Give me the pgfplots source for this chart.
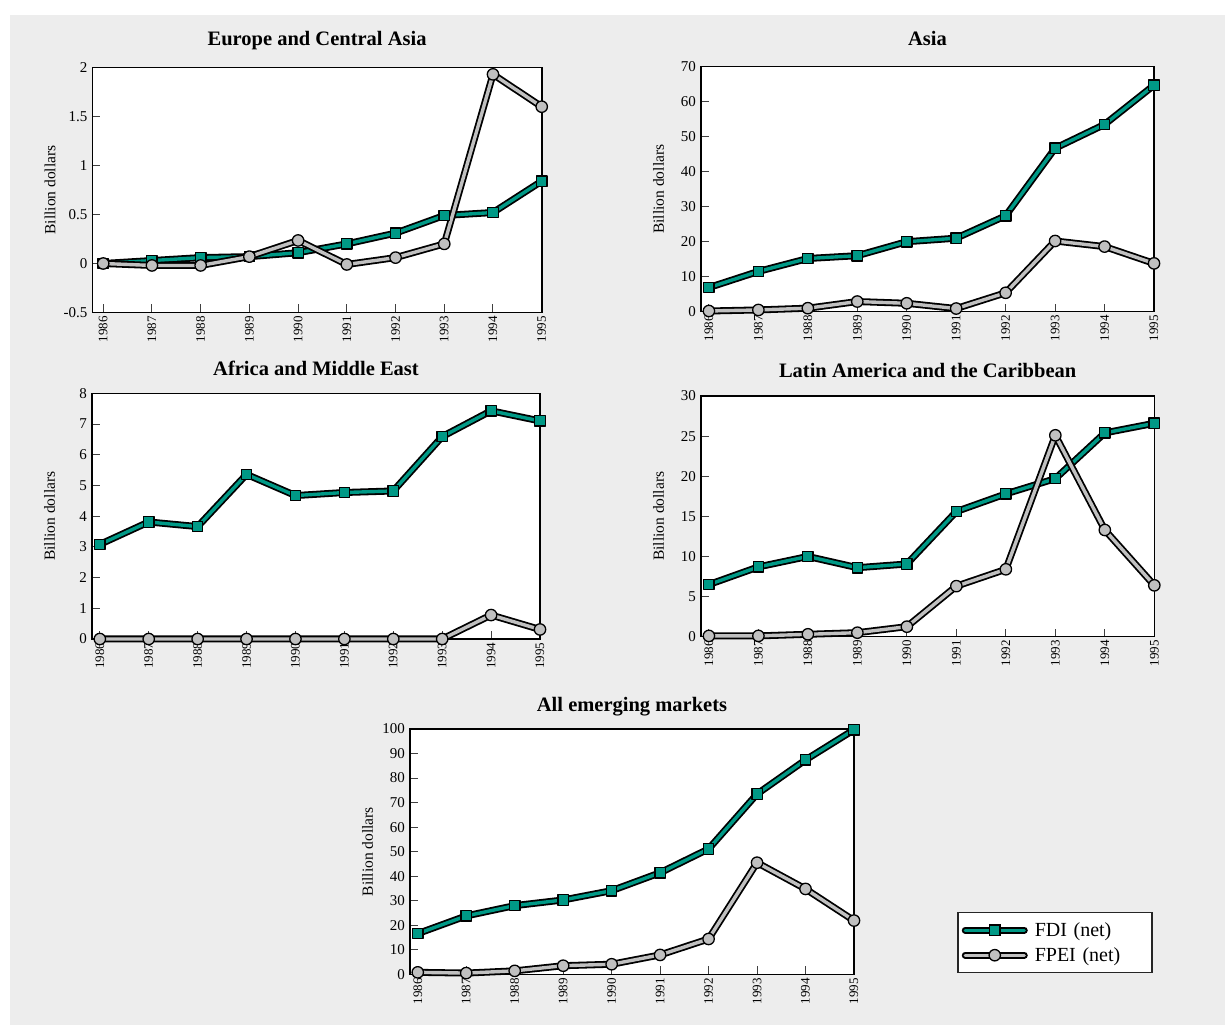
\documentclass[border=0pt]{standalone}
\usepackage{pgfplots}
\pgfplotsset{compat=1.18}
\usepackage{pgfplotstable}
\usepackage{fontspec}
\setmainfont{Liberation Serif}

\definecolor{tealc}{RGB}{0,153,134}
\definecolor{greyc}{RGB}{192,192,192}
\definecolor{bgc}{RGB}{237,237,237}

\pgfplotstableread{
year fdi fpei
1986 0.00 0.00
1987 0.03 -0.02
1988 0.06 -0.02
1989 0.07 0.07
1990 0.11 0.235
1991 0.20 -0.01
1992 0.31 0.06
1993 0.49 0.20
1994 0.52 1.93
1995 0.84 1.60
}\europe
\pgfplotstableread{
year fdi fpei
1986 6.9 0.2
1987 11.5 0.5
1988 15.2 1.0
1989 16.0 2.9
1990 20.0 2.4
1991 21.0 0.9
1992 27.4 5.4
1993 46.7 20.2
1994 53.5 18.6
1995 64.7 13.8
}\asia
\pgfplotstableread{
year fdi fpei
1986 3.08 0
1987 3.81 0
1988 3.66 0
1989 5.36 0
1990 4.67 0
1991 4.77 0
1992 4.82 0
1993 6.59 0
1994 7.43 0.78
1995 7.10 0.31
}\africa
\pgfplotstableread{
year fdi fpei
1986 6.5 0.1
1987 8.7 0.1
1988 10.0 0.3
1989 8.6 0.5
1990 9.06 1.25
1991 15.6 6.3
1992 17.8 8.4
1993 19.7 25.1
1994 25.4 13.3
1995 26.6 6.4
}\latin
\pgfplotstableread{
year fdi fpei
1986 16.6 0.8
1987 23.8 0.5
1988 28.0 1.4
1989 30.3 3.5
1990 34.1 4.1
1991 41.4 7.9
1992 51.1 14.4
1993 73.5 45.5
1994 87.4 34.8
1995 99.7 21.9
}\allem

\pgfplotsset{
  panel/.style={
    scale only axis,
    anchor=south west,
    axis background/.style={fill=white},
    axis line style={line width=1.6pt, black},
    xmin=1985.84, xmax=1995,
    xtick={1986,...,1995},
    xticklabels={1986,1987,1988,1989,1990,1991,1992,1993,1994,1995},
    xtick pos=bottom, ytick pos=left,
    tick align=inside,
    major tick length=8pt,
    major tick style={line width=1pt, black!75},
    xticklabel style={rotate=90, anchor=east, font=\fontsize{13}{15}\selectfont, inner sep=3.5pt},
    yticklabel style={font=\fontsize{15}{17}\selectfont, inner sep=5pt},
    /pgf/number format/assume math mode=true,
    /pgf/number format/1000 sep={},
    ylabel={Billion dollars},
    every axis y label/.style={at={(axis description cs:0,0.5)}, xshift=-42.5pt, rotate=90, anchor=center, font=\fontsize{15.5}{18}\selectfont},
    title style={at={(axis description cs:0.5,1)}, anchor=base, font=\bfseries\fontsize{20.5}{24}\selectfont},
    clip=false,
  },
  outline/.style={black, line width=7pt, line join=round, forget plot},
  fdiline/.style={tealc, line width=3.4pt, line join=round, forget plot, mark=square*, mark size=5.2pt, mark options={fill=tealc, draw=black, line width=1.3pt}},
  fpeiline/.style={greyc, line width=3.4pt, line join=round, forget plot, mark=*, mark size=5.7pt, mark options={fill=greyc, draw=black, line width=1.3pt}},
}

\newcommand{\series}[1]{%
  \addplot[outline] table[x=year,y=fdi] {#1};
  \addplot[fdiline] table[x=year,y=fdi] {#1};
  \addplot[outline] table[x=year,y=fpei] {#1};
  \addplot[fpeiline] table[x=year,y=fpei] {#1};
}

\begin{document}
\begin{tikzpicture}[x=1pt,y=1pt]
\fill[white] (0,0) rectangle (1225,1025);
\fill[bgc] (10,0) rectangle (1225,1010);

\begin{axis}[panel, at={(92.5pt,712.5pt)}, width=449.2pt, height=245pt,
  xmin=1985.78, ymin=-0.5, ymax=2, ytick={-0.5,0,0.5,1,1.5,2},
  title={Europe and Central Asia}, title style={yshift=15.5pt}]
\series{\europe}
\end{axis}

\begin{axis}[panel, at={(701pt,713.3pt)}, width=453pt, height=245pt,
  ymin=0, ymax=70, ytick={0,10,...,70},
  title={Asia}, title style={yshift=15pt}]
\series{\asia}
\end{axis}

\begin{axis}[panel, at={(92pt,386pt)}, width=448pt, height=245.7pt,
  ymin=0, ymax=8, ytick={0,1,...,8},
  title={Africa and Middle East}, title style={yshift=11.5pt}]
\series{\africa}
\end{axis}

\begin{axis}[panel, at={(701pt,388.3pt)}, width=453.3pt, height=240.7pt,
  ymin=0, ymax=30, ytick={0,5,...,30},
  title={Latin America and the Caribbean}, title style={yshift=12pt}]
\series{\latin}
\end{axis}

\begin{axis}[panel, at={(410pt,50.7pt)}, width=444pt, height=245.3pt,
  ymin=0, ymax=100, ytick={0,10,...,100},
  title={All emerging markets}, title style={yshift=11pt},
  legend cell align=left,
  legend style={at={(axis description cs:1.232,0.254)}, anchor=north west,
    draw=black!85, line width=1.5pt, fill=white,
    font=\fontsize{20}{24}\selectfont,
    inner xsep=4pt, inner ysep=5pt, row sep=0pt,
    nodes={inner ysep=4.8pt, inner xsep=7pt, text width=106pt}}]
\series{\allem}
\addlegendimage{legend image code/.code={
  \draw[black,line width=7pt,line cap=round] (0pt,0pt) -- (59pt,0pt);
  \draw[tealc,line width=3.4pt,line cap=round] (0pt,0pt) -- (59pt,0pt);
  \draw[fill=tealc,draw=black,line width=1.3pt] (24.3pt,-5.2pt) rectangle (34.7pt,5.2pt);
}}
\addlegendentry{FDI (net)}
\addlegendimage{legend image code/.code={
  \draw[black,line width=7pt,line cap=round] (0pt,0pt) -- (59pt,0pt);
  \draw[greyc,line width=3.4pt,line cap=round] (0pt,0pt) -- (59pt,0pt);
  \draw[fill=greyc,draw=black,line width=1.3pt] (29.5pt,0pt) circle (5.7pt);
}}
\addlegendentry{FPEI (net)}
\end{axis}

\pgfresetboundingbox
\useasboundingbox (0,0) rectangle (1225,1025);
\end{tikzpicture}
\end{document}
